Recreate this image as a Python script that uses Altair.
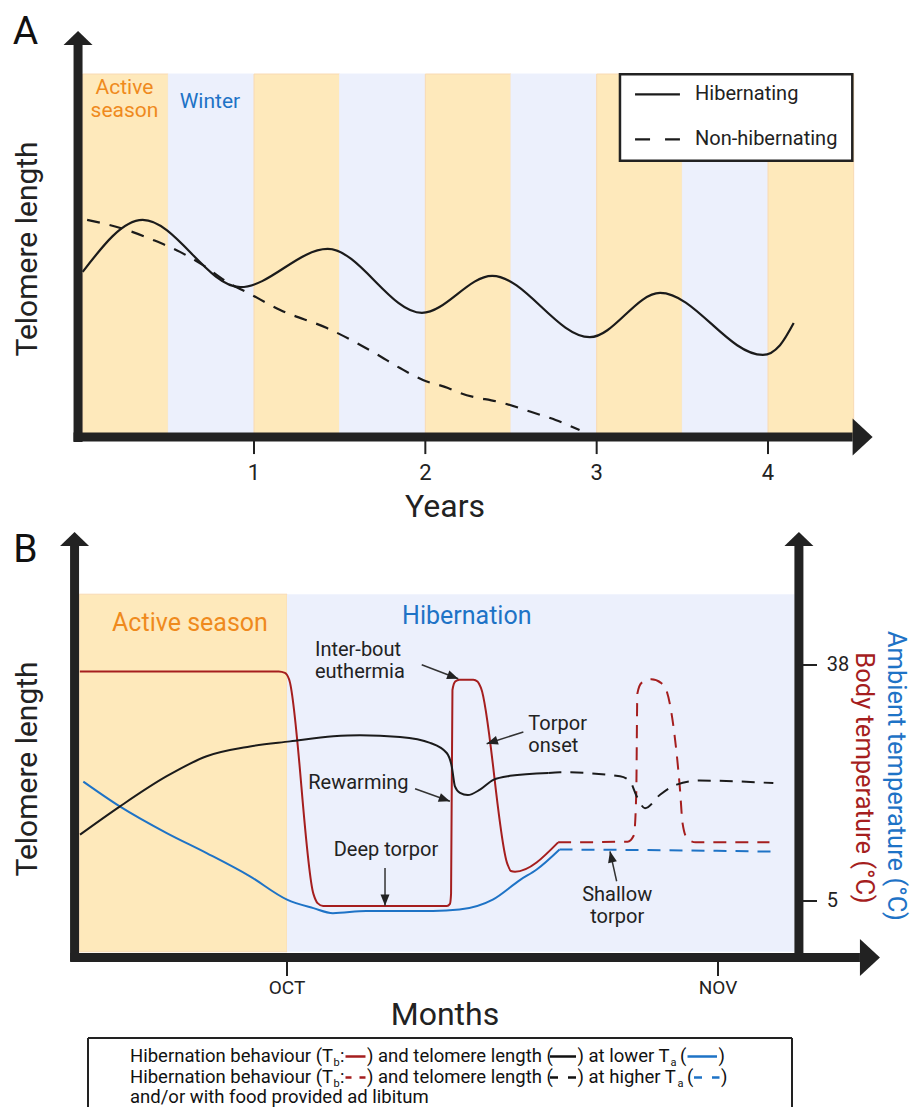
import altair as alt
import pandas as pd

FONT = "Roboto"
INK = "#222222"
CURVE = "#1b1b1b"
RED = "#A51E1E"
BLUE = "#1E73C6"
ORANGE = "#EF8A1D"
ACTIVE_FILL = "#FEE9BB"
ACTIVE_EDGE = "#F8DAB4"
WINTER_FILL = "#ECF0FC"

# ======================= Panel A : telomere length over years =======================
season_start = [0.0, 0.5, 1.0, 1.5, 2.0, 2.5, 3.0, 3.5, 4.0]
season_end = [0.5, 1.0, 1.5, 2.0, 2.5, 3.0, 3.5, 4.0, 4.5]
season_kind = ["Active", "Winter", "Active", "Winter", "Active", "Winter", "Active", "Winter", "Active"]
season_top = 100

year_ticks = [1, 2, 3, 4]
year_labels = ["1", "2", "3", "4"]

hib_years = [0.00, 0.35, 0.92, 1.43, 1.98, 2.39, 2.96, 3.37, 3.97, 4.07, 4.15]
hib_tel = [45.5, 59.8, 41.3, 51.8, 34.2, 44.4, 27.5, 39.7, 22.6, 25.3, 31.4]

non_years = [0.026, 0.24, 0.41, 0.568, 0.70, 0.842, 0.965, 1.153, 1.426, 1.706, 1.852,
             1.986, 2.132, 2.203, 2.45, 2.67, 2.76, 2.90]
non_tel = [59.8, 57.3, 54.3, 51.0, 47.4, 42.7, 39.7, 35.0, 30.0, 23.1, 19.0,
           15.7, 13.5, 12.1, 9.4, 6.1, 4.7, 1.9]

legend_a_names = ["Hibernating", "Non-hibernating"]
legend_a_level = [94.4, 82.0]

# ======================= Panel B : one hibernation season =======================
month_ticks = [0, 31]            # days after 1 October
month_labels = ["OCT", "NOV"]
temp_ticks = [5, 38]
temp_labels = ["5", "38"]

active_days = [-14.95, 0.0]
hibern_days = [0.0, 36.5]
shade_temp = [-2.1, 47.9]

# body temperature (lower Ta, solid)
tb_days = [-14.9, -0.6, -0.15, 0.15, 1.9, 2.2, 2.6, 11.5, 11.72, 11.8, 11.9, 12.1, 12.4,
           13.4, 13.7, 13.95, 15.85, 16.1, 16.4, 19.5]
tb_vals = [37.1, 37.1, 36.9, 36.0, 6.0, 4.7, 4.3, 4.3, 4.6, 6.0, 34.5, 35.7, 35.95,
           35.95, 35.7, 34.8, 10.2, 9.2, 9.1, 13.2]
# body temperature (higher Ta / food, dashed)
tbh_days = [19.5, 24.5, 24.95, 25.12, 25.2, 25.5, 26.2, 26.9, 27.3, 27.76, 28.27, 28.45,
            28.8, 29.4, 34.7]
tbh_vals = [13.2, 13.3, 14.2, 20.0, 34.0, 35.5, 36.0, 35.5, 34.4, 29.9, 20.5, 15.9,
            13.7, 13.2, 13.2]
# ambient temperature
ta_days = [-14.65, -12.0, -8.65, -5.78, -2.66, 0.0, 1.9, 3.3, 5.7, 8.1, 10.5, 12.4,
           14.8, 16.8, 17.96, 19.6]
ta_vals = [21.7, 18.2, 14.5, 11.7, 8.45, 5.2, 4.0, 3.3, 3.6, 3.6, 3.6, 3.8,
           5.2, 8.0, 9.4, 12.2]
tah_days = [19.6, 27.0, 35.1]
tah_vals = [12.2, 12.1, 11.9]
# telomere length (arbitrary units)
tl_days = [-14.89, -12.01, -8.65, -5.78, -2.66, 0.22, 3.33, 5.25, 8.13, 10.29, 11.49,
           11.85, 12.08, 12.44, 13.0, 13.88, 14.84, 16.04, 18.8]
tl_vals = [33.7, 41.5, 49.8, 55.3, 58.0, 59.4, 60.8, 61.1, 60.6, 59.0, 56.2,
           52.5, 47.0, 45.2, 44.6, 46.1, 48.8, 49.9, 50.7]
tlh_days = [18.8, 19.64, 23.95, 24.67, 25.15, 25.75, 26.83, 28.03, 29.7, 34.98]
tlh_vals = [50.7, 50.9, 49.8, 48.4, 44.3, 41.0, 44.7, 47.5, 48.6, 47.9]

note_text = ["Inter-bout", "euthermia", "Rewarming", "Deep torpor", "Torpor", "onset"]
note_day = [2.01, 2.01, 1.53, 3.36, 17.36, 17.36]
note_temp = [39.3, 36.2, 20.6, 11.25, 28.95, 25.9]
shallow_text = ["Shallow", "torpor"]
shallow_temp = [4.96, 1.93]
shallow_day = [23.75, 23.75]

arrow_from_day = [9.69, 9.21, 7.05, 17.0, 23.71]
arrow_from_temp = [38.04, 20.70, 9.62, 28.63, 7.76]
arrow_to_day = [12.32, 11.72, 7.05, 14.36, 23.23]
arrow_to_temp = [36.08, 18.94, 4.35, 27.0, 11.95]
arrow_angle = [111, 110, 180, 252, 347]

# ======================= scales =======================
XA = alt.Scale(domain=[0, 4.5], range=[74.67, 845.67], nice=False, zero=False)
YA = alt.Scale(domain=[0, 100], range=[429, 66], nice=False, zero=False)
XB = alt.Scale(domain=[0, 31], range=[279, 710], nice=False, zero=False)
YB = alt.Scale(domain=[5, 38], range=[378, 142], nice=False, zero=False)
YBT = alt.Scale(domain=[0, 100], range=[434, 71], nice=False, zero=False)
XC = alt.Scale(domain=[0, 904], range=[0, 904], nice=False, zero=False)
YC = alt.Scale(domain=[0, 72], range=[0, 72], nice=False, zero=False)

UP = "M-1,0L0,-0.97L1,0Z"
RIGHT = "M0,-1L1.08,0L0,1Z"
HEAD = "M0,0L-0.5,1.25L0.5,1.25Z"


def pos(xs, ys):
    return dict(x=alt.X("x:Q", scale=xs, axis=None), y=alt.Y("y:Q", scale=ys, axis=None))


def seg(xs, ys, x, x2, y, y2, **mark):
    df = pd.DataFrame({"x": x, "x2": x2, "y": y, "y2": y2})
    return alt.Chart(df).mark_rule(**mark).encode(
        x=alt.X("x:Q", scale=xs, axis=None), x2="x2:Q",
        y=alt.Y("y:Q", scale=ys, axis=None), y2="y2:Q")


def box(xs, ys, x, x2, y, y2, **mark):
    df = pd.DataFrame({"x": x, "x2": x2, "y": y, "y2": y2})
    return alt.Chart(df).mark_rect(**mark).encode(
        x=alt.X("x:Q", scale=xs, axis=None), x2="x2:Q",
        y=alt.Y("y:Q", scale=ys, axis=None), y2="y2:Q")


def curve(xs, ys, xv, yv, **mark):
    df = pd.DataFrame({"x": xv, "y": yv})
    return alt.Chart(df).mark_line(interpolate="monotone", **mark).encode(**pos(xs, ys))


def label(xs, ys, xv, yv, tv, **mark):
    mark.setdefault("baseline", "alphabetic")
    df = pd.DataFrame({"x": xv, "y": yv, "t": tv})
    return alt.Chart(df).mark_text(font=FONT, **mark).encode(**pos(xs, ys), text="t:N")


def head(xs, ys, xv, yv, shape, size, angles=None):
    df = pd.DataFrame({"x": xv, "y": yv, "a": angles if angles else [0] * len(xv)})
    return alt.Chart(df).mark_point(shape=shape, size=size, filled=True, color=INK,
                                    opacity=1, strokeWidth=0).encode(
        **pos(xs, ys), angle=alt.Angle("a:Q", scale=None))


# ======================= Panel A =======================
sea = pd.DataFrame({"x": season_start, "x2": season_end, "kind": season_kind})
sea["y"] = 0
sea["y2"] = season_top
bands_a = alt.Chart(sea).mark_rect(strokeWidth=1).encode(
    x=alt.X("x:Q", scale=XA, axis=None), x2="x2:Q",
    y=alt.Y("y:Q", scale=YA, axis=None), y2="y2:Q",
    color=alt.Color("kind:N", scale=alt.Scale(domain=["Active", "Winter"],
                                               range=[ACTIVE_FILL, WINTER_FILL]), legend=None),
    stroke=alt.Stroke("kind:N", scale=alt.Scale(domain=["Active", "Winter"],
                                                 range=[ACTIVE_EDGE, WINTER_FILL]), legend=None),
)

panel_a = alt.layer(
    bands_a,
    label(XA, YA, [0.244, 0.244], [94.5, 88.1], ["Active", "season"], fontSize=21, color=ORANGE, align="center"),
    label(XA, YA, [0.743], [90.55], ["Winter"], fontSize=21, color=BLUE, align="center"),
    box(XA, YA, [3.136], [4.492], [76.1], [99.9], fill="white", stroke=INK, strokeWidth=2.5),
    seg(XA, YA, [3.224], [3.486], [legend_a_level[0]], [legend_a_level[0]], color=CURVE, strokeWidth=2.2),
    seg(XA, YA, [3.224], [3.486], [legend_a_level[1]], [legend_a_level[1]], color=CURVE, strokeWidth=2.2,
        strokeDash=[15, 15]),
    label(XA, YA, [3.574, 3.574], legend_a_level, legend_a_names, fontSize=20, color=INK,
          align="left", baseline="middle"),
    curve(XA, YA, non_years, non_tel, color=CURVE, strokeWidth=2.2, strokeDash=[13, 10]),
    curve(XA, YA, hib_years, hib_tel, color=CURVE, strokeWidth=2.2),
    seg(XA, YA, [-0.027], [-0.027], [-1.4], [108.0], color=INK, strokeWidth=9),
    seg(XA, YA, [-0.0535], [4.494], [0], [0], color=INK, strokeWidth=9),
    head(XA, YA, [-0.027], [108.0], UP, 841),
    head(XA, YA, [4.494], [0], RIGHT, 1369),
    seg(XA, YA, year_ticks, year_ticks, [0] * 4, [-4.7] * 4, color=INK, strokeWidth=2),
    label(XA, YA, year_ticks, [-11.8] * 4, year_labels, fontSize=22, color=INK, align="center"),
    label(XA, YA, [2.115], [-22.0], ["Years"], fontSize=32, color=INK, align="center"),
    label(XA, YA, [-0.319], [51.8], ["Telomere length"], fontSize=30, color=INK, align="center",
          baseline="middle", angle=270),
    label(XA, YA, [-0.334], [108.2], ["A"], fontSize=39, color="#111111", align="center"),
).properties(width=904, height=512)

# ======================= Panel B =======================
temp_layer = alt.layer(
    box(XB, YB, [active_days[0]], [active_days[1]], [shade_temp[0]], [shade_temp[1]],
        fill=ACTIVE_FILL, stroke=ACTIVE_EDGE, strokeWidth=1),
    box(XB, YB, [hibern_days[0]], [hibern_days[1]], [shade_temp[0]], [shade_temp[1]],
        fill=WINTER_FILL, strokeWidth=0),
    label(XB, YB, [-6.98], [42.7], ["Active season"], fontSize=25, color=ORANGE, align="center"),
    label(XB, YB, [12.93], [43.8], ["Hibernation"], fontSize=25, color=BLUE, align="center"),
    curve(XB, YB, ta_days, ta_vals, color=BLUE, strokeWidth=2),
    curve(XB, YB, tah_days, tah_vals, color=BLUE, strokeWidth=2, strokeDash=[13, 9]),
    curve(XB, YB, tb_days, tb_vals, color=RED, strokeWidth=2),
    curve(XB, YB, tbh_days, tbh_vals, color=RED, strokeWidth=2, strokeDash=[13, 9]),
    label(XB, YB, note_day, note_temp, note_text, fontSize=20, color=INK, align="left"),
    label(XB, YB, shallow_day, shallow_temp, shallow_text, fontSize=20, color=INK, align="center"),
    seg(XB, YB, arrow_from_day, arrow_to_day, arrow_from_temp, arrow_to_temp, color="#333333", strokeWidth=1.5),
    head(XB, YB, arrow_to_day, arrow_to_temp, HEAD, 324, arrow_angle),
    # axes
    seg(XB, YB, [-15.28, 36.82], [-15.28, 36.82], [-3.46, -3.46], [54.64, 54.64], color=INK, strokeWidth=9),
    seg(XB, YB, [-15.59], [41.21], [-2.9], [-2.9], color=INK, strokeWidth=9),
    head(XB, YB, [-15.28, 36.82], [54.64, 54.64], UP, 841),
    head(XB, YB, [41.21], [-2.9], RIGHT, 1369),
    seg(XB, YB, month_ticks, month_ticks, [-2.9, -2.9], [-5.5, -5.5], color=INK, strokeWidth=2),
    label(XB, YB, month_ticks, [-7.96, -7.96], month_labels, fontSize=19, color=INK, align="center"),
    seg(XB, YB, [36.82, 36.82], [38.12, 38.12], temp_ticks, temp_ticks, color=INK, strokeWidth=2),
    label(XB, YB, [38.82, 38.82], temp_ticks, temp_labels, fontSize=20, color=INK, align="left",
          baseline="middle"),
    label(XB, YB, [11.36], [-12.34], ["Months"], fontSize=32, color=INK, align="center"),
    label(XB, YB, [41.5], [22.2], ["Body temperature (°C)"], fontSize=25.5, color=RED,
          align="center", baseline="middle", angle=90),
    label(XB, YB, [43.8], [22.5], ["Ambient temperature (°C)"], fontSize=25.5, color=BLUE,
          align="center", baseline="middle", angle=90),
    label(XB, YB, [-18.63], [23.46], ["Telomere length"], fontSize=30, color=INK, align="center",
          baseline="middle", angle=270),
    label(XB, YB, [-18.81], [52.4], ["B"], fontSize=39, color="#111111", align="center"),
)

tel_layer = alt.layer(
    curve(XB, YBT, tl_days, tl_vals, color=CURVE, strokeWidth=2),
    curve(XB, YBT, tlh_days, tlh_vals, color=CURVE, strokeWidth=2, strokeDash=[13, 9]),
)

panel_b = alt.layer(temp_layer, tel_layer).resolve_scale(y="independent").properties(width=904, height=512)

# ======================= Panel C : key box =======================
row_y = [26.5, 47.5, 68.0]
key_text = ["Hibernation behaviour (T", ":", ") and telomere length (", ") at lower T", "(", ")",
            "Hibernation behaviour (T", ":", ") and telomere length (", ") at higher T", "(", ")",
            "and/or with food provided ad libitum"]
key_x = [122, 332, 359, 569.5, 672, 710.5,
         122, 332, 359, 569.5, 679, 713,
         122]
key_y = [row_y[0]] * 6 + [row_y[1]] * 6 + [row_y[2]]
sub_text = ["b", "a", "b", "a"]
sub_x = [325.5, 662.5, 325.5, 669.5]
sub_y = [row_y[0] + 4, row_y[0] + 4, row_y[1] + 4, row_y[1] + 4]
mid1 = row_y[0] - 5
mid2 = row_y[1] - 5

panel_c = alt.layer(
    seg(XC, YC, [80], [784], [3], [3], color=INK, strokeWidth=2),
    seg(XC, YC, [80, 784], [80, 784], [3, 3], [72, 72], color=INK, strokeWidth=2),
    label(XC, YC, key_x, key_y, key_text, fontSize=18.5, color="#111111", align="left"),
    label(XC, YC, sub_x, sub_y, sub_text, fontSize=11, color="#111111", align="left"),
    seg(XC, YC, [337.5], [357.5], [mid1], [mid1], color=RED, strokeWidth=2.5),
    seg(XC, YC, [542], [568], [mid1], [mid1], color="#111111", strokeWidth=2.5),
    seg(XC, YC, [679.5], [709], [mid1], [mid1], color=BLUE, strokeWidth=2.5),
    seg(XC, YC, [337.5], [357.5], [mid2], [mid2], color=RED, strokeWidth=2.5, strokeDash=[6, 8]),
    seg(XC, YC, [542], [568], [mid2], [mid2], color="#111111", strokeWidth=2.5, strokeDash=[8, 10]),
    seg(XC, YC, [686], [711.5], [mid2], [mid2], color=BLUE, strokeWidth=2.5, strokeDash=[8, 10]),
).properties(width=904, height=72)

chart = alt.vconcat(panel_a, panel_b, panel_c, spacing=0).resolve_scale(
    x="independent", y="independent"
).properties(padding=0, background="white").configure_view(strokeWidth=0)

chart.save("out.html", embed_options={"renderer": "svg", "actions": False})
